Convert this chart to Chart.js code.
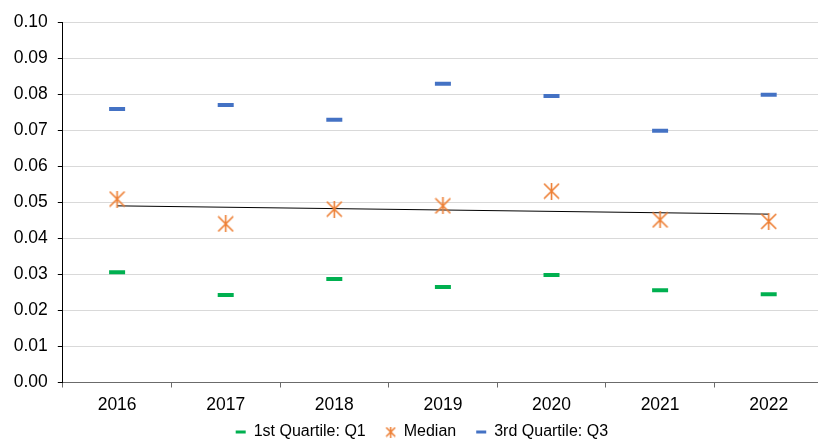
<!DOCTYPE html>
<html>
<head>
<meta charset="utf-8">
<script src="https://cdn.jsdelivr.net/npm/chart.js@4/dist/chart.umd.min.js"></script>
<style>
  body { margin: 0; background: #fff; }
  #wrap { width: 818px; height: 441px; overflow: hidden; }
  canvas { display: block; }
</style>
</head>
<body>
<div id="wrap"><canvas id="quartiles" width="835" height="468"></canvas></div>
<script>
//values
const years = ["2016", "2017", "2018", "2019", "2020", "2021", "2022"];
const q1 = [0.0306, 0.0243, 0.0287, 0.0265, 0.0298, 0.0256, 0.0245];
const median = [0.0509, 0.0440, 0.0481, 0.0490, 0.0531, 0.0451, 0.0447];
const q3 = [0.0759, 0.0770, 0.0729, 0.0829, 0.0795, 0.0698, 0.0798];
//linear trend of the median, only the two ends are drawn
const trend = [0.0490, null, null, null, null, null, 0.0467];

const orange = "#ED7D31";
const green = "#00B050";
const blue = "#4472C4";
const font = "'Liberation Sans', Arial, sans-serif";

//excel style "star" marker: an x with a vertical bar
function makeStar(size, lw){
    const c = document.createElement("canvas");
    c.width = size;
    c.height = size;
    const g = c.getContext("2d");
    g.strokeStyle = orange;
    g.lineWidth = lw;
    g.beginPath();
    g.moveTo(1, 1); g.lineTo(size - 1, size - 1);
    g.moveTo(size - 1, 1); g.lineTo(1, size - 1);
    g.moveTo(size / 2, 0); g.lineTo(size / 2, size);
    g.stroke();
    return c;
}
const bigStar = makeStar(17, 1.6);
const smallStar = makeStar(11, 1.5);

function dashSet(label, data, color){
    return {
        label: label,
        data: data,
        showLine: false,
        pointStyle: "line",
        pointRadius: 8,
        pointHoverRadius: 8,
        pointBorderWidth: 4,
        pointBorderColor: color,
        borderColor: color,
        backgroundColor: color
    };
}

//pull the legend up close under the year labels (excel packs them tight)
const legendShift = {
    id: "legendShift",
    afterLayout(chart){
        const lg = chart.legend;
        lg.top -= 18; lg.bottom -= 18;
        lg.left += 4.5; lg.right += 4.5;
    }
};

let ctx = document.getElementById("quartiles");
let chart = new Chart(ctx, {
    type: "line",
    data: {
        labels: years,
        datasets: [
            dashSet("1st Quartile: Q1", q1, green),
            {
                label: "Median",
                data: median,
                showLine: false,
                pointStyle: bigStar,
                pointRadius: 8,
                borderColor: orange,
                backgroundColor: orange
            },
            dashSet("3rd Quartile: Q3", q3, blue),
            {
                label: "trend",
                data: trend,
                spanGaps: true,
                borderColor: "#000",
                borderWidth: 1,
                pointRadius: 0,
                fill: false
            }
        ]
    },
    plugins: [legendShift],
    options: {
        responsive: false,
        animation: false,
        events: [],
        layout: { padding: { left: 3.75, right: 4, top: 22, bottom: 0 } },
        plugins: {
            tooltip: { enabled: false },
            legend: {
                position: "bottom",
                labels: {
                    usePointStyle: true,
                    pointStyleWidth: 10,
                    padding: 20,
                    color: "#000",
                    font: { family: font, size: 16 },
                    filter: (item) => item.datasetIndex !== 3,
                    generateLabels: (chart) => {
                        const items = Chart.defaults.plugins.legend.labels.generateLabels(chart);
                        items.forEach(it => {
                            if(it.datasetIndex === 1) it.pointStyle = smallStar;
                            else it.lineWidth = 3;
                        });
                        return items;
                    }
                }
            }
        },
        scales: {
            x: {
                offset: true,
                grid: {
                    offset: true,
                    drawOnChartArea: false,
                    tickLength: 5,
                    color: "#6b6b6b"
                },
                border: { color: "#6b6b6b", width: 1 },
                ticks: {
                    color: "#000",
                    padding: 8.5,
                    font: { family: font, size: 17.5, lineHeight: 1 }
                }
            },
            y: {
                min: 0,
                max: 0.1,
                grid: {
                    color: "#D9D9D9",
                    tickColor: "#000",
                    tickLength: 5
                },
                border: { color: "#000", width: 1 },
                ticks: {
                    stepSize: 0.01,
                    color: "#000",
                    padding: 10,
                    font: { family: font, size: 17.5 },
                    callback: (v) => v.toFixed(2)
                }
            }
        }
    }
});
</script>
</body>
</html>
